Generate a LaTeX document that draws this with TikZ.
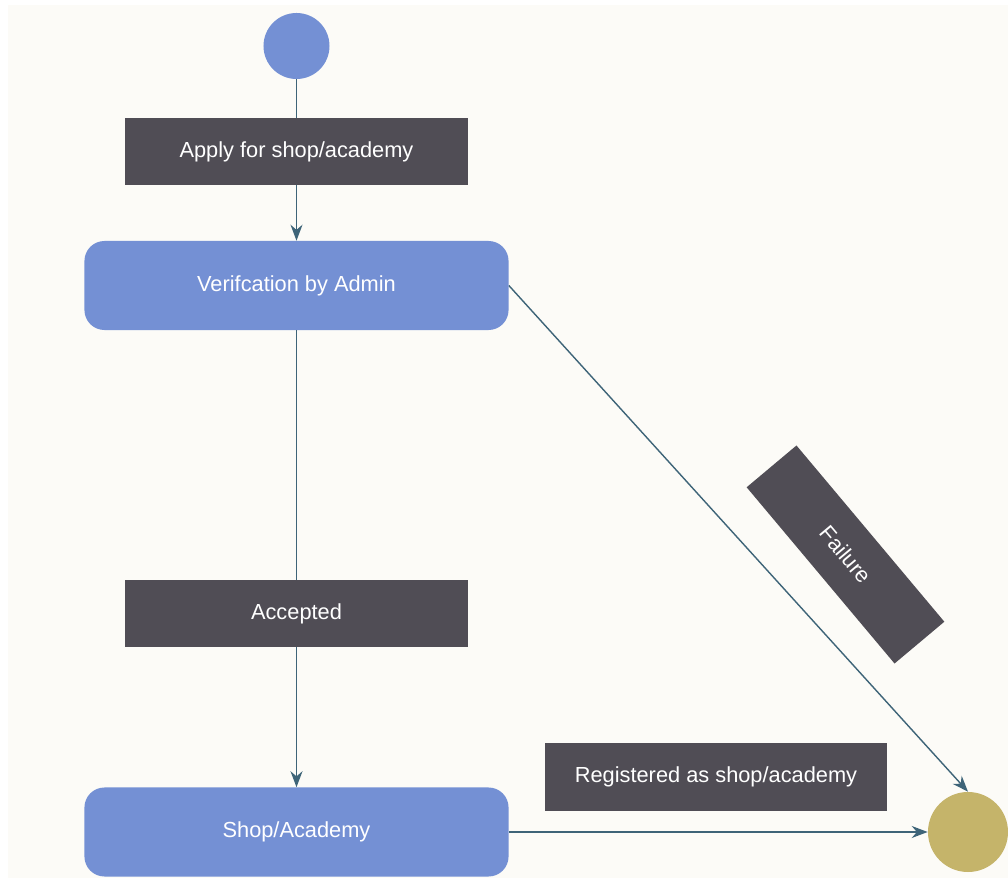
\documentclass[tikz,border=0pt]{standalone}
\usepackage{fontspec}
\setmainfont{Liberation Sans}
\usepackage{tikz}
\usetikzlibrary{shapes, arrows.meta, positioning}
\definecolor{bgcol}{HTML}{FCFBF7}
\definecolor{stateblue}{HTML}{7490D4}
\definecolor{labelgray}{HTML}{504D55}
\definecolor{endgold}{HTML}{C5B46A}
\definecolor{linecol}{HTML}{3E6478}
\tikzset{
    state/.style={rectangle, fill=stateblue, rounded corners=0.5cm, align=center, text=white, minimum width=10.6cm, minimum height=2.225cm, font=\fontsize{15.5}{18}\selectfont},
    tag/.style={rectangle, fill=labelgray, align=center, text=white, minimum width=8.55cm, minimum height=1.675cm, font=\fontsize{15.5}{18}\selectfont},
    startdot/.style={circle, fill=stateblue, minimum size=1.65cm, inner sep=0pt},
    enddot/.style={circle, fill=endgold, minimum size=2cm, inner sep=0pt},
    arrow/.style={draw=linecol, line width=1pt, -{Stealth[length=4mm, width=3mm]}}
}

\begin{document}
\begin{tikzpicture}[x=0.025cm, y=-0.025cm]
        \useasboundingbox (0, 0) rectangle (1008, 878);
        \fill[bgcol] (8, 5) rectangle (1008, 878);

        % Start and end
        \node (Start) [startdot] at (296.5, 46) {};
        \node (End) [enddot] at (968, 832) {};

        % States
        \node (Verify) [state] at (296.5, 285.5) {Verifcation by Admin};
        \node (Shop) [state] at (296.5, 832) {Shop/Academy};

        % Flow arrows
        \draw[arrow] (Start.south) -- node[tag, pos=0.45] (Apply) {Apply  for shop/academy} (Verify.north);
        \draw[arrow] (Verify.south) -- node[tag, pos=0.62] (Accepted) {Accepted} (Shop.north);
        \draw[arrow] (Verify.east) -- (End.north);
        \draw[arrow] (Shop.east) -- (End.west);

        % Labels off the lines
        \node (Failure) [tag, minimum width=5.75cm, minimum height=1.625cm, rotate=-50] at (845.5, 554.5) {Failure};
        \node (Registered) [tag] at (716, 777) {Registered as shop/academy};
    \end{tikzpicture}
\end{document}
